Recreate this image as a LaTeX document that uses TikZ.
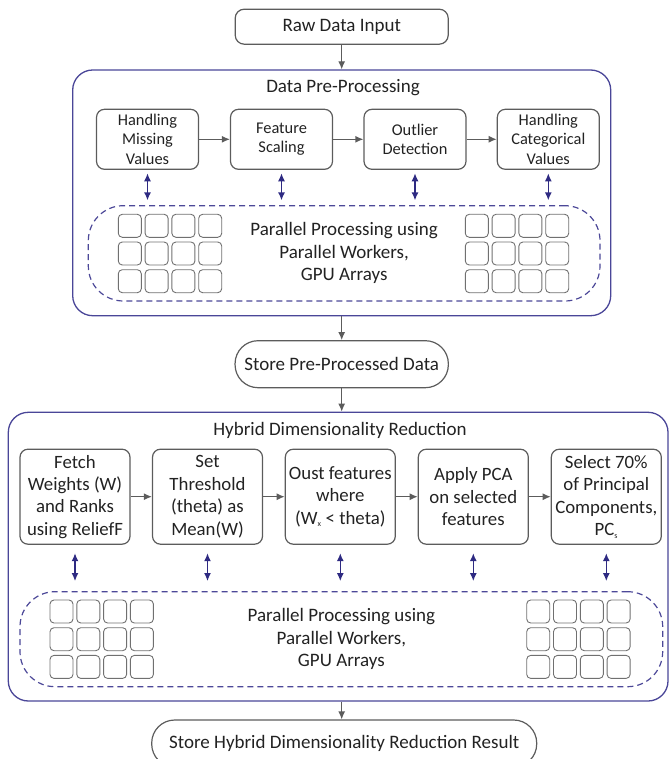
\documentclass[tikz,border=0pt]{standalone}
\usepackage{fontspec}
\setmainfont{Carlito}
\usetikzlibrary{arrows.meta}
\definecolor{frame}{HTML}{4A4698}
\definecolor{dbl}{HTML}{2E2A82}
\definecolor{dsh}{HTML}{4C4898}
\definecolor{gbox}{HTML}{5C5C5C}
\definecolor{gcell}{HTML}{707070}
\definecolor{txt}{HTML}{222222}
\tikzset{
  stepbox/.style={draw=gbox, line width=1.2pt, rounded corners=8pt, align=center, text=txt, inner sep=2pt},
  rowone/.style={stepbox, minimum width=102pt, minimum height=60pt, font=\fontsize{16.4pt}{19.6pt}\selectfont},
  rowtwo/.style={stepbox, minimum width=110pt, minimum height=95pt, font=\fontsize{18.8pt}{22.4pt}\selectfont},
  pillbox/.style={draw=gbox, line width=1.2pt, rounded corners=23pt, align=center, text=txt, font=\fontsize{19pt}{22.5pt}\selectfont, minimum height=47pt},
  outerbox/.style={draw=frame, line width=1.3pt, rounded corners=20pt},
  titletext/.style={text=txt, font=\fontsize{19pt}{22.5pt}\selectfont},
  dashpill/.style={draw=dsh, line width=1.2pt, dash pattern=on 6pt off 4pt, rounded corners=35pt, align=center, text=txt, font=\fontsize{19pt}{22.5pt}\selectfont},
  cell/.style={draw=gcell, line width=0.9pt, rounded corners=4pt, minimum width=23pt, minimum height=23pt, inner sep=0pt},
  flow/.style={draw=gbox, line width=1.2pt, -{Latex[length=8pt,width=7pt]}},
  dblarrow/.style={draw=dbl, line width=1.4pt, {Latex[length=8pt,width=7pt]}-{Latex[length=8pt,width=7pt]}},
}
\begin{document}
\begin{tikzpicture}[x=1pt,y=-1pt]
\useasboundingbox (0,0) rectangle (669,759);

% top
\node[pillbox, rounded corners=9pt, minimum width=213pt, minimum height=35pt] (raw) at (341.7,26.7) {Raw Data Input};

% pre-processing frame
\node[outerbox, minimum width=538pt, minimum height=245.7pt] (outer1) at (341.7,192.85) {};
\node[titletext] (title1) at (343,88) {Data Pre-Processing};

\node[rowone] (p1) at (147.5,139.3) {Handling\\Missing\\Values};
\node[rowone] (p2) at (281.5,139.3) {Feature\\Scaling};
\node[rowone] (p3) at (415,139.3) {Outlier\\Detection};
\node[rowone] (p4) at (548.3,139.3) {Handling\\Categorical\\Values};
\draw[flow] (p1) -- (p2);
\draw[flow] (p2) -- (p3);
\draw[flow] (p3) -- (p4);

\node[dashpill, minimum width=511.7pt, minimum height=95.3pt] (pp1) at (344.15,253.35) {Parallel Processing using\\Parallel Workers,\\GPU Arrays};

\foreach \r in {0,1,2}{
  \foreach \c in {0,1,2,3}{
    \node[cell] (la\r\c) at (129.8+26.8*\c,225.8+27.7*\r) {};
    \node[cell] (ra\r\c) at (476.8+26.8*\c,225.8+27.7*\r) {};
  }
}

\foreach \b in {p1,p2,p3,p4}{
  \draw[dblarrow] ([yshift=-3.4pt]\b.south) -- ([yshift=4.7pt]\b.south |- pp1.north);
}

% store pre-processed
\node[pillbox, minimum width=213.3pt] (store) at (341.7,364.2) {Store Pre-Processed Data};
\draw[flow] (raw) -- (raw.south |- outer1.north);
\draw[flow] (raw.south |- outer1.south) -- (store);

% hybrid frame
\node[outerbox, minimum width=659.7pt, minimum height=288.7pt] (outer2) at (338.15,556.65) {};
\node[titletext] (title2) at (340,430.7) {Hybrid Dimensionality Reduction};
\draw[flow] (store) -- (store.south |- outer2.north);

\node[rowtwo] (h1) at (75,496.7) {Fetch\\Weights (W)\\and Ranks\\using ReliefF};
\node[rowtwo] (h2) at (207.5,496.7) {Set\\Threshold\\(theta) as\\Mean(W)};
\node[rowtwo] (h3) at (340.3,496.7) {Oust features\\where\\(W\textsubscript{\fontsize{8pt}{8pt}\selectfont x} < theta)};
\node[rowtwo] (h4) at (473.3,496.7) {Apply PCA\\on selected\\features};
\node[rowtwo] (h5) at (606.3,496.7) {Select 70\%\\of Principal\\Components,\\PC\textsubscript{\fontsize{8pt}{8pt}\selectfont s}};
\draw[flow] (h1) -- (h2);
\draw[flow] (h2) -- (h3);
\draw[flow] (h3) -- (h4);
\draw[flow] (h4) -- (h5);

\node[dashpill, minimum width=642.7pt, minimum height=95pt] (pp2) at (341.35,639.2) {Parallel Processing using\\Parallel Workers,\\GPU Arrays};

\foreach \r in {0,1,2}{
  \foreach \c in {0,1,2,3}{
    \node[cell] (lb\r\c) at (61.5+26.8*\c,611.5+27.7*\r) {};
    \node[cell] (rb\r\c) at (538.2+26.8*\c,611.5+27.7*\r) {};
  }
}

\foreach \b in {h1,h2,h3,h4,h5}{
  \draw[dblarrow] ([yshift=-8.4pt]\b.south) -- ([yshift=10pt]\b.south |- pp2.north);
}

% final
\node[pillbox, minimum width=385pt] (final) at (344.2,743.5) {Store Hybrid Dimensionality Reduction Result};
\draw[flow] (raw.south |- outer2.south) -- (raw.south |- final.north);
\end{tikzpicture}
\end{document}
